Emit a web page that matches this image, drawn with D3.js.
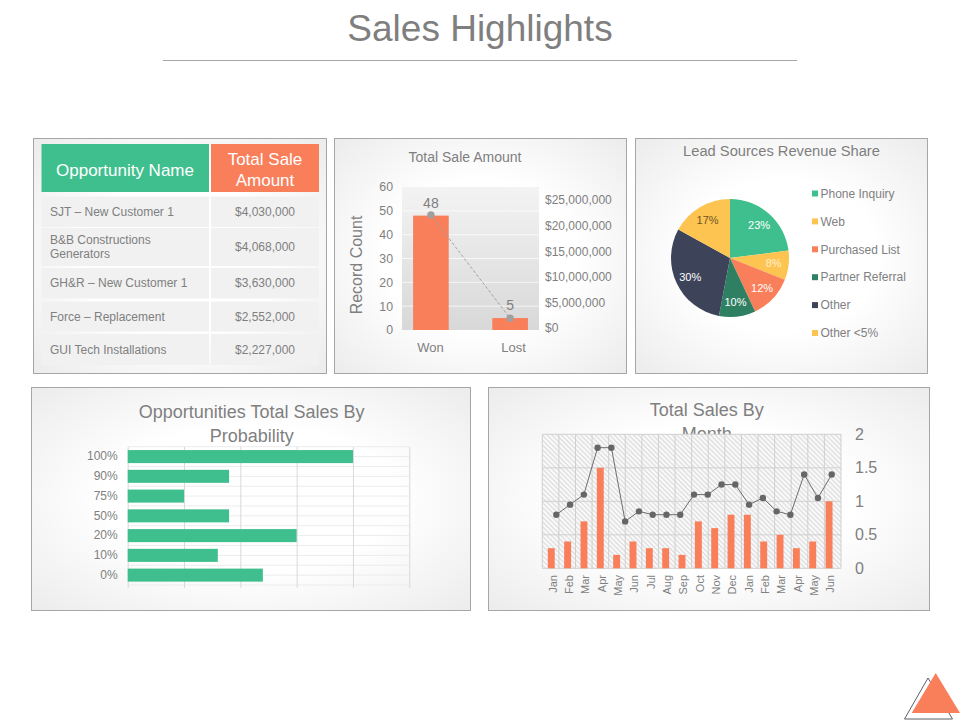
<!DOCTYPE html>
<html>
<head>
<meta charset="utf-8">
<script src="https://cdnjs.cloudflare.com/ajax/libs/d3/7.8.5/d3.min.js"></script>
<style>
  body { margin: 0; background: #fff; }
  svg { display: block; }
  text { font-family: "Liberation Sans", Arial, sans-serif; fill: #7f7f7f; }
  .axis path { display: none; }
</style>
</head>
<body>
<svg width="960" height="720"></svg>
<script>
// table
var oppNames = ['SJT – New Customer 1', 'B&B Constructions\nGenerators', 'GH&R – New Customer 1', 'Force – Replacement', 'GUI Tech Installations']
var oppAmounts = ['$4,030,000', '$4,068,000', '$3,630,000', '$2,552,000', '$2,227,000']

// total sale amount
var wonLost = ['Won', 'Lost']
var recordCounts = [48, 5]
var saleAmounts = [22100000, 1900000]
var countTicks = [0, 10, 20, 30, 40, 50, 60]
var amountTicks = [0, 5000000, 10000000, 15000000, 20000000, 25000000]

// lead sources
var leadSources = ['Phone Inquiry', 'Web', 'Purchased List', 'Partner Referral', 'Other', 'Other <5%']
var leadShares = [23, 8, 12, 10, 30, 17]
var leadColors = ['#40bf8e', '#fdc452', '#f97e5a', '#2f8063', '#3d4459', '#fdc452']
var leadLabelColors = ['#fff', '#fdf0cc', '#fff', '#fff', '#fff', '#6b5526']

// probability
var probabilities = ['100%', '90%', '75%', '50%', '20%', '10%', '0%']
var probabilityTotals = [4, 1.8, 1, 1.8, 3, 1.6, 2.4]

// by month
var months = ['Jan', 'Feb', 'Mar', 'Apr', 'May', 'Jun', 'Jul', 'Aug', 'Sep', 'Oct', 'Nov', 'Dec', 'Jan', 'Feb', 'Mar', 'Apr', 'May', 'Jun']
var monthBars = [0.3, 0.4, 0.7, 1.5, 0.2, 0.4, 0.3, 0.3, 0.2, 0.7, 0.6, 0.8, 0.8, 0.4, 0.5, 0.3, 0.4, 1]
var monthLine = [0.8, 0.95, 1.1, 1.8, 1.8, 0.7, 0.85, 0.8, 0.8, 0.8, 1.1, 1.1, 1.25, 1.25, 0.95, 1.05, 0.85, 0.8, 1.4, 1.05, 1.4]
var monthTicks = [0, 0.5, 1, 1.5, 2]

var green = '#40bf8e'
var orange = '#f97e5a'

var svg = d3.select('svg')
var defs = svg.append('defs')

var panelGrad = defs.append('radialGradient').attr('id', 'panelGrad').attr('r', 0.72)
panelGrad.append('stop').attr('offset', '45%').attr('stop-color', '#fff')
panelGrad.append('stop').attr('offset', '100%').attr('stop-color', '#ebebeb')

var plotGrad = defs.append('linearGradient').attr('id', 'plotGrad').attr('x2', 0).attr('y2', 1)
plotGrad.append('stop').attr('offset', '0%').attr('stop-color', '#f3f3f3')
plotGrad.append('stop').attr('offset', '100%').attr('stop-color', '#d8d8d8')

var hatch = defs.append('pattern').attr('id', 'hatch')
  .attr('width', 3.4).attr('height', 3.4)
  .attr('patternUnits', 'userSpaceOnUse')
  .attr('patternTransform', 'rotate(-45)')
hatch.append('line').attr('x1', 1).attr('x2', 1).attr('y1', 0).attr('y2', 3.4)
  .attr('stroke', '#d4d4d4').attr('stroke-width', 1)

function panel(x, y, w, h) {
  svg.append('rect')
    .attr('x', x + 0.5).attr('y', y + 0.5)
    .attr('width', w).attr('height', h)
    .attr('fill', 'url(#panelGrad)')
    .attr('stroke', '#a6a6a6')
}

function title(lines, x, y, size, gap) {
  svg.append('g').selectAll('text')
    .data(lines)
    .enter()
   .append('text')
    .attr('x', x)
    .attr('y', (d, i) => y + i * gap)
    .attr('text-anchor', 'middle')
    .attr('font-size', size)
    .text(d => d)
}

// page heading
title(['Sales Highlights'], 480, 41, 37, 0)
svg.append('line')
  .attr('x1', 163).attr('x2', 797).attr('y1', 60.5).attr('y2', 60.5)
  .attr('stroke', '#a6a6a6')

// ---- table ----
panel(33, 138, 293, 235)

svg.append('rect').attr('x', 41.5).attr('y', 144).attr('width', 167.5).attr('height', 48).attr('fill', green)
svg.append('rect').attr('x', 211).attr('y', 144).attr('width', 108).attr('height', 48).attr('fill', orange)

svg.append('text').attr('x', 125).attr('y', 176).attr('text-anchor', 'middle')
  .attr('font-size', 17).style('fill', '#fff').text('Opportunity Name')
svg.append('g').selectAll('text')
  .data(['Total Sale', 'Amount'])
  .enter()
 .append('text')
  .attr('x', 265)
  .attr('y', (d, i) => 165 + i * 21)
  .attr('text-anchor', 'middle')
  .attr('font-size', 17)
  .style('fill', '#fff')
  .text(d => d)

var rowTops = [196.5, 228, 268, 301.5, 334]
var rowHeights = [30.5, 38, 30.5, 30, 31]

var rows = svg.append('g').selectAll('g')
  .data(oppNames)
  .enter()
 .append('g')
  .attr('transform', (d, i) => `translate(0,${rowTops[i]})`)

rows.append('rect').attr('x', 41.5).attr('width', 167.5).attr('height', (d, i) => rowHeights[i]).attr('fill', '#f1f1f1')
rows.append('rect').attr('x', 211).attr('width', 108).attr('height', (d, i) => rowHeights[i]).attr('fill', '#f1f1f1')

rows.each(function (d, i) {
  var lines = d.split('\n')
  d3.select(this).selectAll('text.name')
    .data(lines)
    .enter()
   .append('text')
    .attr('class', 'name')
    .attr('x', 50)
    .attr('y', (l, j) => rowHeights[i] / 2 + 4 + (j - (lines.length - 1) / 2) * 14)
    .attr('font-size', 12)
    .text(l => l)
})

rows.append('text')
  .attr('x', 265)
  .attr('y', (d, i) => rowHeights[i] / 2 + 4)
  .attr('text-anchor', 'middle')
  .attr('font-size', 12)
  .text((d, i) => oppAmounts[i])

// ---- total sale amount ----
panel(334, 138, 292, 235)
title(['Total Sale Amount'], 465, 162, 14, 0)

var saleX = d3.scaleBand().domain(wonLost).range([402, 539]).paddingInner(0.55).paddingOuter(0.14)
var countY = d3.scaleLinear().domain([0, 60]).range([330, 187])
var amountY = d3.scaleLinear().domain([0, 25000000]).range([328, 200])
var saleLabelX = d3.scalePoint().domain(wonLost).range([430, 513])

svg.append('rect').attr('x', 402).attr('y', 187).attr('width', 137).attr('height', 143).attr('fill', 'url(#plotGrad)')

svg.append('g').selectAll('line')
  .data(countTicks.slice(1, -1))
  .enter()
 .append('line')
  .attr('x1', 402).attr('x2', 539)
  .attr('y1', d => countY(d)).attr('y2', d => countY(d))
  .attr('stroke', '#fff').attr('stroke-opacity', 0.7)

svg.append('g').selectAll('rect')
  .data(recordCounts)
  .enter()
 .append('rect')
  .attr('x', (d, i) => saleX(wonLost[i]))
  .attr('y', d => countY(d))
  .attr('width', saleX.bandwidth())
  .attr('height', d => countY(0) - countY(d))
  .attr('fill', orange)

var saleLine = d3.line()
  .x((d, i) => saleX(wonLost[i]) + saleX.bandwidth() / 2)
  .y(d => amountY(d))

svg.append('path')
  .attr('d', saleLine(saleAmounts))
  .attr('fill', 'none')
  .attr('stroke', '#a0a0a0')
  .attr('stroke-dasharray', '3,2')

svg.append('g').selectAll('circle')
  .data(saleAmounts)
  .enter()
 .append('circle')
  .attr('cx', (d, i) => saleX(wonLost[i]) + saleX.bandwidth() / 2)
  .attr('cy', d => amountY(d))
  .attr('r', 3.7)
  .attr('fill', '#a0a0a0')

svg.append('g').selectAll('text')
  .data(recordCounts)
  .enter()
 .append('text')
  .attr('x', (d, i) => saleX(wonLost[i]) + saleX.bandwidth() / 2)
  .attr('y', d => countY(d) - 8)
  .attr('text-anchor', 'middle')
  .attr('font-size', 14)
  .text(d => d)

svg.append('g').attr('class', 'axis')
  .attr('transform', 'translate(402,0)')
  .call(d3.axisLeft(countY).tickValues(countTicks).tickSize(0).tickPadding(9))
  .call(g => g.selectAll('text').attr('font-size', 12.3).style('fill', '#7f7f7f').style('font-family', '"Liberation Sans"'))

svg.append('g').attr('class', 'axis')
  .attr('transform', 'translate(539,0)')
  .call(d3.axisRight(amountY).tickValues(amountTicks).tickSize(0).tickPadding(6).tickFormat(d3.format('$,')))
  .call(g => g.selectAll('text').attr('font-size', 12).style('fill', '#7f7f7f').style('font-family', '"Liberation Sans"'))

svg.append('g').attr('class', 'axis')
  .attr('transform', 'translate(0,340)')
  .call(d3.axisBottom(saleLabelX).tickSize(0).tickPadding(3))
  .call(g => g.selectAll('text').attr('font-size', 13).style('fill', '#7f7f7f').style('font-family', '"Liberation Sans"'))

svg.append('text')
  .attr('transform', 'translate(362,265) rotate(-90)')
  .attr('text-anchor', 'middle')
  .attr('font-size', 16)
  .text('Record Count')

// ---- lead sources ----
panel(635, 138, 292, 235)
title(['Lead Sources Revenue Share'], 781.5, 156, 14.7, 0)

var pie = d3.pie().sort(null)
var pieArc = d3.arc().innerRadius(0).outerRadius(59)
var pieLabelArc = d3.arc().innerRadius(44).outerRadius(44)
var pieData = pie(leadShares)

var pieG = svg.append('g').attr('transform', 'translate(730,258)')

pieG.selectAll('path')
  .data(pieData)
  .enter()
 .append('path')
  .attr('d', pieArc)
  .attr('fill', (d, i) => leadColors[i])

pieG.selectAll('text')
  .data(pieData)
  .enter()
 .append('text')
  .attr('transform', d => `translate(${pieLabelArc.centroid(d)})`)
  .attr('dy', '0.35em')
  .attr('text-anchor', 'middle')
  .attr('font-size', 11)
  .style('fill', (d, i) => leadLabelColors[i])
  .text(d => d.data + '%')

var legendY = d3.scalePoint().domain(d3.range(leadSources.length)).range([193.5, 333])

var legend = svg.append('g').selectAll('g')
  .data(leadSources)
  .enter()
 .append('g')
  .attr('transform', (d, i) => `translate(812,${legendY(i)})`)

legend.append('rect')
  .attr('y', -3).attr('width', 6).attr('height', 6)
  .attr('fill', (d, i) => leadColors[i])

legend.append('text')
  .attr('x', 8.5).attr('dy', '0.35em')
  .attr('font-size', 12)
  .text(d => d)

// ---- probability ----
panel(31, 387, 439, 223)

var probX = d3.scaleLinear().domain([0, 5]).range([127.7, 409.3])
var probY = d3.scaleBand().domain(probabilities).range([446.7, 585]).paddingInner(0.34).paddingOuter(0.17)

svg.append('g').selectAll('line')
  .data(d3.range(0, probabilities.length * 2 + 1))
  .enter()
 .append('line')
  .attr('x1', probX(0)).attr('x2', probX(5))
  .attr('y1', d => 446.7 + d * 138.3 / (probabilities.length * 2))
  .attr('y2', d => 446.7 + d * 138.3 / (probabilities.length * 2))
  .attr('stroke', '#ececec')

svg.append('g').attr('class', 'axis')
  .attr('transform', 'translate(0,588)')
  .call(d3.axisTop(probX).ticks(5).tickSize(141).tickFormat(''))
  .call(g => g.selectAll('line').attr('stroke', '#d9d9d9'))

title(['Opportunities Total Sales By', 'Probability'], 251.7, 418, 18, 24)

svg.append('g').selectAll('rect')
  .data(probabilityTotals)
  .enter()
 .append('rect')
  .attr('x', probX(0))
  .attr('y', (d, i) => probY(probabilities[i]))
  .attr('width', d => probX(d) - probX(0))
  .attr('height', probY.bandwidth())
  .attr('fill', green)

svg.append('g').attr('class', 'axis')
  .attr('transform', 'translate(127.7,0)')
  .call(d3.axisLeft(probY).tickSize(0).tickPadding(10))
  .call(g => g.selectAll('text').attr('font-size', 12).style('fill', '#7f7f7f').style('font-family', '"Liberation Sans"'))

// ---- by month ----
panel(488, 387, 441, 223)
title(['Total Sales By', 'Month'], 706.7, 416, 18, 24)

var monthX = d3.scaleBand().domain(d3.range(months.length)).range([542.3, 841]).padding(0.28)
var monthEdgeX = d3.scaleLinear().domain([0, months.length]).range([542.3, 841])
var monthY = d3.scaleLinear().domain([0, 2]).range([568.3, 434.3])
var linePointX = d3.scalePoint().domain(d3.range(monthLine.length)).range([556.3, 831.7])

// white under the hatch hides the bottom of the title, like the original
svg.append('rect').attr('x', 542.3).attr('y', 434.3).attr('width', 298.7).attr('height', 134).attr('fill', '#fafafa')
svg.append('rect').attr('x', 542.3).attr('y', 434.3).attr('width', 298.7).attr('height', 134).attr('fill', 'url(#hatch)')

svg.append('g').selectAll('line')
  .data(monthTicks)
  .enter()
 .append('line')
  .attr('x1', 542.3).attr('x2', 841)
  .attr('y1', d => monthY(d)).attr('y2', d => monthY(d))
  .attr('stroke', '#d0d0d0')

svg.append('g').selectAll('line')
  .data(d3.range(months.length + 1))
  .enter()
 .append('line')
  .attr('x1', d => monthEdgeX(d)).attr('x2', d => monthEdgeX(d))
  .attr('y1', 434.3).attr('y2', 568.3)
  .attr('stroke', '#d0d0d0')

svg.append('g').selectAll('rect')
  .data(monthBars)
  .enter()
 .append('rect')
  .attr('x', (d, i) => monthX(i) + monthX.bandwidth() * 0.08)
  .attr('y', d => monthY(d))
  .attr('width', monthX.bandwidth() * 0.84 * 0.7)
  .attr('height', d => monthY(0) - monthY(d))
  .attr('fill', orange)

var monthPath = d3.line()
  .x((d, i) => linePointX(i))
  .y(d => monthY(d))

svg.append('path')
  .attr('d', monthPath(monthLine))
  .attr('fill', 'none')
  .attr('stroke', '#6e6e6e')

svg.append('g').selectAll('circle')
  .data(monthLine)
  .enter()
 .append('circle')
  .attr('cx', (d, i) => linePointX(i))
  .attr('cy', d => monthY(d))
  .attr('r', 3.2)
  .attr('fill', '#666')

svg.append('g').attr('class', 'axis')
  .attr('transform', 'translate(841,0)')
  .call(d3.axisRight(monthY).tickValues(monthTicks).tickSize(0).tickPadding(14).tickFormat(d => d))
  .call(g => g.selectAll('text').attr('font-size', 16).style('fill', '#7f7f7f').style('font-family', '"Liberation Sans"'))

svg.append('g').selectAll('text')
  .data(months)
  .enter()
 .append('text')
  .attr('transform', (d, i) => `translate(${monthX(i) + monthX.bandwidth() / 2},575) rotate(-90)`)
  .attr('dy', '0.35em')
  .attr('text-anchor', 'end')
  .attr('font-size', 11)
  .text(d => d)

// ---- corner logo ----
svg.append('path').attr('d', 'M904.5,719 L928,678 L952.5,719 Z')
  .attr('fill', 'none').attr('stroke', '#5a5f66').attr('stroke-width', 1)
svg.append('path').attr('d', 'M935.7,673 L911.7,713 L960,713 Z').attr('fill', orange)
</script>
</body>
</html>
